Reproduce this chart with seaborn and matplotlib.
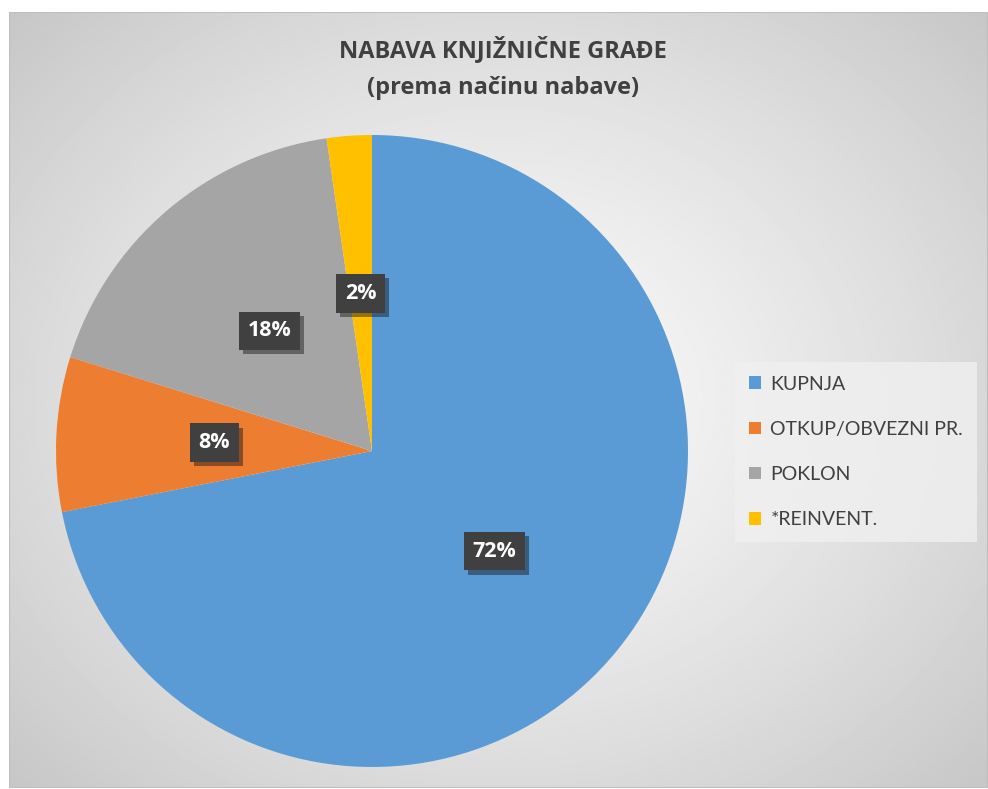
import numpy as np
import matplotlib.pyplot as plt
import matplotlib.patheffects as pe
from matplotlib.patches import Rectangle
import seaborn as sns

# Data
categories = ["KUPNJA", "OTKUP/OBVEZNI PR.", "POKLON", "*REINVENT."]
shares = [71.9, 7.9, 17.9, 2.3]
colors = ["#5B9BD5", "#ED7D31", "#A5A5A5", "#FFC000"]
title_lines = ["NABAVA KNJIŽNIČNE GRAĐE", "(prema načinu nabave)"]

sns.set_style("white")
plt.rcParams["font.family"] = ["Lato", "DejaVu Sans"]
bold_family = ["Open Sans", "DejaVu Sans"]

W, H = 988, 789
fig = plt.figure(figsize=(W / 100, H / 100), dpi=100)
fig.patch.set_facecolor("white")

# Radial gradient background of the chart area
bg = fig.add_axes([9 / W, 1 / H, (W - 9) / W, (H - 13) / H])
yy, xx = np.mgrid[-1:1:400j, -1:1:500j]
rr = np.sqrt((xx * 0.95) ** 2 + (yy * 0.9) ** 2)
light, dark = 0.98, 0.78
grad = light - (light - dark) * np.clip(rr / 1.3, 0, 1) ** 1.3
bg.imshow(grad, cmap="gray", vmin=0, vmax=1, aspect="auto", extent=[0, 1, 0, 1])
bg.add_patch(Rectangle((0, 0), 1, 1, transform=bg.transAxes, fill=False,
                       edgecolor="#bfbfbf", lw=1.5))
bg.set_axis_off()

# Pie
cx, cy, r = 372, 451, 316
ax = fig.add_axes([(cx - r) / W, (H - cy - r) / H, 2 * r / W, 2 * r / H])
wedges, texts, autotexts = ax.pie(
    shares, colors=colors, startangle=90, counterclock=False,
    autopct=lambda p: f"{p:.0f}%", pctdistance=0.5,
    wedgeprops=dict(linewidth=0),
    textprops=dict(color="white", fontsize=15.5, fontweight="bold",
                   family=bold_family))
ax.set_xlim(-1, 1)
ax.set_ylim(-1, 1)
ax.set_aspect("equal")
ax.set_axis_off()

for t in autotexts:
    t.set_bbox(dict(boxstyle="square,pad=0.4", facecolor="#404040",
                    edgecolor="none"))
    t.get_bbox_patch().set_path_effects(
        [pe.SimplePatchShadow(offset=(3, -3), alpha=0.45), pe.Normal()])

# Title
fig.text(503 / W, 1 - 50 / H, title_lines[0], ha="center", va="center",
         fontsize=17, fontweight="bold", color="#404040", family=bold_family)
fig.text(503 / W, 1 - 88 / H, title_lines[1], ha="center", va="center",
         fontsize=17, fontweight="bold", color="#404040", family=bold_family)

# Legend
leg = fig.legend(wedges, categories, loc="upper left",
                 bbox_to_anchor=(735 / W, 1 - 362 / H), borderaxespad=0,
                 frameon=True, fancybox=False, fontsize=14,
                 handlelength=0.62, handleheight=0.62, handletextpad=0.5,
                 labelspacing=1.45, borderpad=0.7, labelcolor="#404040")
leg.get_frame().set_facecolor("#f0f0f0")
leg.get_frame().set_edgecolor("none")
leg.get_frame().set_alpha(0.8)

fig.savefig("out.png", dpi=100)
